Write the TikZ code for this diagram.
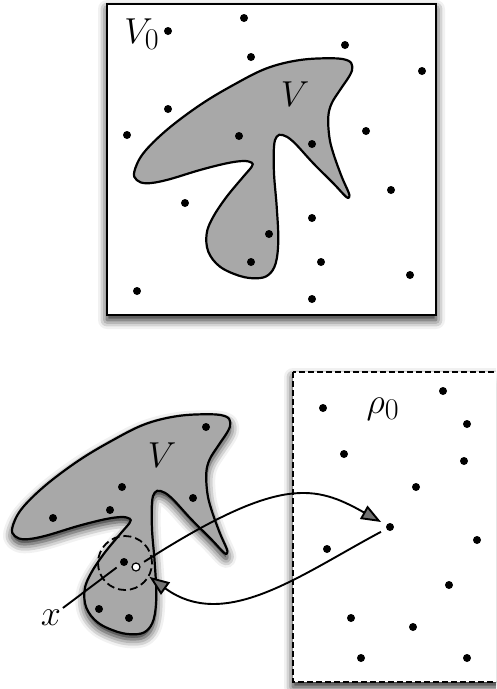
\documentclass[tikz,border=0pt]{standalone}
\usetikzlibrary{shadows.blur,arrows.meta}
\definecolor{blobgray}{RGB}{168,168,168}
\tikzset{
  dot/.style={circle,fill=black,inner sep=0pt,minimum size=8pt},
  opendot/.style={circle,fill=white,draw=black,line width=1.2pt,inner sep=0pt,minimum size=8pt},
  lab/.style={inner sep=0pt,font=\Huge,scale=1.45},
  blob/.style={fill=blobgray,draw=black,line width=2.2pt},
  shad/.style={blur shadow={shadow xshift=0pt,shadow yshift=-5pt,shadow blur radius=9pt,shadow opacity=90}},
  conn/.style={line width=1.9pt},
  tip/.style={-{Triangle[length=20pt,width=15pt]}},
}
\newcommand{\drawblob}[1]{\path[#1] plot[smooth cycle,tension=0.6] coordinates {
 (134.3,171.7) (143.3,153.3) (166.7,130) (200,105) (233.3,85) (266.7,68.3)
 (300,60) (333.3,58.3) (348.3,60.7) (352.3,66.7) (350,75) (340,90)
 (331.7,103.3) (328.3,116.7) (329.3,136.7) (333.3,153.3) (341.7,176.7)
 (348.3,191.7) (349.3,196.7) (346,196.7) (333.3,183.3) (313.3,163.3)
 (293.3,141.7) (282.7,135) (276.7,136.7) (274,146.7) (274,173.3)
 (276.7,206.7) (278.3,240) (275.7,263.3) (268.3,275) (256.7,278.3)
 (240,276) (220,266.7) (208.3,251.7) (206.7,233.3) (213.3,216.7)
 (226.7,196.7) (243.3,176.7) (251.7,166.7) (251.7,162.7) (243.3,161)
 (226.7,163.3) (200,170) (166.7,180) (146.7,183.3) (136.7,180)};}
\begin{document}
\begin{tikzpicture}[x=1pt,y=-1pt]
\path[use as bounding box] (0,0) rectangle (496,689);
\clip (0,0) rectangle (496,689);
% top box
\draw[fill=white,line width=2.6pt,shad] (107,4) rectangle (436,315);
\drawblob{blob}
\foreach \p [count=\i] in {(244,18),(168,31),(345,45),(251,57),(422,71),(168,109),
  (127,135),(239,136),(312,144),(366,131),(391,190),(185,203),(312,218),(269,234),
  (251,262),(321,262),(410,275),(137,291),(312,299)}
  \node[dot] (a\i) at \p {};
\node[lab,anchor=base west] (V0lab) at (124,43) {$V_0$};
\node[lab,anchor=base] (Vtop) at (295,106) {$V$};
% bottom blob
\begin{scope}[shift={(-122,356)}]
\drawblob{blob,shad}
\end{scope}
\foreach \p [count=\i] in {(206,427),(122,487),(193,498),(110,510),(53,518),(99,609),(129,618)}
  \node[dot] (b\i) at \p {};
\node[dot] (bx) at (124,562) {};
\node[opendot] (wd) at (136,567) {};
\node[lab,anchor=base] (Vbot) at (162,467) {$V$};
\node[lab,anchor=base] (xlab) at (51,625) {$x$};
\node[draw,circle,dash pattern=on 8pt off 4pt,line width=1.8pt,minimum size=54pt,inner sep=0pt] (nb) at (125,563) {};
% bottom dashed box
\draw[fill=white,line width=2pt,dash pattern=on 6pt off 3pt,shad] (293,372) rectangle (520,682);
\foreach \p [count=\i] in {(443,391),(323,408),(467,424),(344,454),(464,461),(416,487),
  (477,540),(327,549),(449,585),(351,618),(413,627),(361,658),(467,658)}
  \node[dot] (c\i) at \p {};
\node[dot] (tgt) at (390,527) {};
\node[lab,anchor=base] (rho) at (383,413) {$\rho_0$};
% connectors
\draw[conn,shorten <=2pt,shorten >=5pt] (xlab.north east) -- (bx);
\draw[conn,tip,shorten <=5pt,shorten >=6pt] (wd) .. controls (280,475) and (315,485) .. (tgt);
\draw[conn,tip,shorten <=6pt,shorten >=12pt] (tgt) .. controls (300,575) and (225,632) .. (wd);
\end{tikzpicture}
\end{document}
